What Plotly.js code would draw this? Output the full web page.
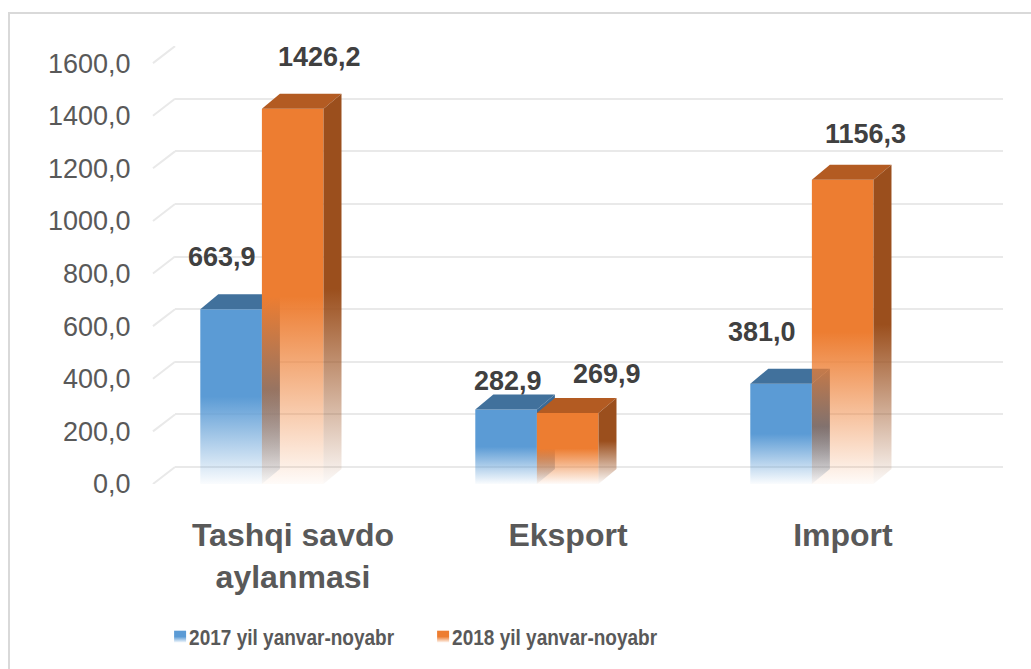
<!DOCTYPE html>
<html>
<head>
<meta charset="utf-8">
<script src="https://cdn.plot.ly/plotly-3.0.1.min.js"></script>
<style>
  html, body { margin: 0; padding: 0; background: #fff; }
  #plot { width: 1031px; height: 669px; }
  #frame {
    position: absolute; left: 8px; top: 12px; width: 1100px; height: 700px;
    border-left: 2px solid #d9d9d9; border-top: 2px solid #d9d9d9;
    pointer-events: none;
  }
</style>
</head>
<body>
<div id="plot"></div>
<div id="frame"></div>
<script>
// ---- data ----
const categories = ["Tashqi savdo<br>aylanmasi", "Eksport", "Import"];
const seriesNames = ["2017 yil yanvar-noyabr", "2018 yil yanvar-noyabr"];
const values2017 = [663.9, 282.9, 381.0];
const values2018 = [1426.2, 269.9, 1156.3];
const yTicks = [0, 200, 400, 600, 800, 1000, 1200, 1400, 1600];

// ---- style ----
const fronts = ["#5b9bd5", "#ed7d31"];
const tops = ["#41719c", "#b35b22"];
const sides = ["#3b6a96", "#9b4f1d"];
const barW = 0.224;
const offsets = [-0.337, -0.113];
const depthX = 18, depthY = 15;
const backShift = 64.5;   // y units that equal the 3D depth in pixels
// label nudges (px) so labels sit like in the original
const nudgeX = [[-9, 2, -19], [27, 39, 23]];
const nudgeY = [[52, 29, 52], [52, 39, 46]];
const legendTextWidth = 205;  // the original legend font is condensed

const allValues = [values2017, values2018];

const traces = allValues.map((vals, s) => ({
    type: "bar",
    name: seriesNames[s],
    x: categories,
    y: vals,
    width: barW,
    offset: offsets[s],
    marker: { color: fronts[s], line: { width: 0 } },
    hoverinfo: "none"
}));

// invisible trace just to get the back gridlines on yaxis2
traces.push({
    type: "scatter", x: [categories[0]], y: [0], yaxis: "y2",
    mode: "markers", marker: { opacity: 0 }, showlegend: false, hoverinfo: "none"
});

const annotations = [];
allValues.forEach((vals, s) => {
    vals.forEach((v, i) => {
        annotations.push({
            x: i + offsets[s] + barW / 2,
            y: v,
            xref: "x", yref: "y",
            text: v.toFixed(1).replace(".", ","),
            showarrow: false,
            xshift: nudgeX[s][i],
            yshift: nudgeY[s][i],
            yanchor: "middle",
            font: { family: "Liberation Sans, Arial", size: 27, color: "#404040", weight: "bold" }
        });
    });
});

// short slanted gridline pieces at the left, like the 3D floor
const shapes = yTicks.map(t => ({
    type: "line", layer: "below",
    xref: "paper", yref: "y",
    x0: -0.0266, x1: 0,
    y0: t, y1: t + backShift,
    line: { color: "#e9e9e9", width: 2 }
}));

const layout = {
    width: 1031,
    height: 669,
    margin: { l: 175, r: 28, t: 46, b: 184 },
    paper_bgcolor: "rgba(0,0,0,0)",
    plot_bgcolor: "rgba(0,0,0,0)",
    separators: ", ",
    barmode: "overlay",
    showlegend: true,
    legend: {
        orientation: "h",
        x: -0.018, xanchor: "left",
        y: -0.346, yanchor: "middle",
        entrywidth: 218, entrywidthmode: "pixels",
        font: { family: "Liberation Sans, Arial", size: 22, color: "#595959", weight: "bold" },
        itemclick: false
    },
    xaxis: {
        type: "category",
        range: [-0.429, 2.582],
        showgrid: false,
        zeroline: false,
        showline: false,
        ticks: "outside",
        ticklen: 23,
        tickcolor: "rgba(0,0,0,0)",
        tickfont: { family: "Liberation Sans, Arial", size: 32, color: "#595959", weight: "bold" }
    },
    yaxis: {
        range: [0, 1665],
        tickvals: yTicks,
        ticktext: yTicks.map(t => t.toFixed(1).replace(".", ",")),
        showgrid: false,
        zeroline: false,
        showline: false,
        ticks: "outside",
        ticklen: 38,
        tickcolor: "rgba(0,0,0,0)",
        tickfont: { family: "Liberation Sans, Arial", size: 27, color: "#595959" }
    },
    yaxis2: {
        overlaying: "y",
        range: [-backShift, 1665 - backShift],
        tickvals: yTicks,
        showticklabels: false,
        showgrid: true,
        gridcolor: "#e9e9e9",
        gridwidth: 2,
        zeroline: false,
        showline: false
    },
    annotations: annotations,
    shapes: shapes
};

const SVGNS = "http://www.w3.org/2000/svg";

function addGradient(defs, id, color) {
    const g = document.createElementNS(SVGNS, "linearGradient");
    g.setAttribute("id", id);
    g.setAttribute("x1", "0"); g.setAttribute("y1", "0");
    g.setAttribute("x2", "0"); g.setAttribute("y2", "1");
    [[0, 1], [0.5, 1], [1, 0.03]].forEach(([o, op]) => {
        const st = document.createElementNS(SVGNS, "stop");
        st.setAttribute("offset", o);
        st.setAttribute("stop-color", color);
        st.setAttribute("stop-opacity", op);
        g.appendChild(st);
    });
    defs.appendChild(g);
}

function poly(parent, pts, fill) {
    const p = document.createElementNS(SVGNS, "polygon");
    p.setAttribute("points", pts.map(q => q.join(",")).join(" "));
    p.setAttribute("style", "fill:" + fill + ";stroke:none");
    parent.appendChild(p);
}

function dress3D(gd) {
    const svg = gd.querySelector("svg.main-svg");
    let defs = svg.querySelector("defs");
    if (!defs) {
        defs = document.createElementNS(SVGNS, "defs");
        svg.insertBefore(defs, svg.firstChild);
    }
    for (let s = 0; s < 2; s++) {
        addGradient(defs, "front" + s, fronts[s]);
        addGradient(defs, "side" + s, sides[s]);
    }

    const barTraces = gd.querySelectorAll(".barlayer .trace");
    barTraces.forEach((tr, s) => {
        tr.querySelectorAll(".point").forEach(pt => {
            const path = pt.querySelector("path");
            if (!path) return;
            path.style.fill = "url(#front" + s + ")";
            const b = path.getBBox();
            const x0 = b.x, x1 = b.x + b.width, y0 = b.y, y1 = b.y + b.height;
            // top face
            poly(pt, [[x0, y0], [x1, y0], [x1 + depthX, y0 - depthY], [x0 + depthX, y0 - depthY]], tops[s]);
            // side face
            poly(pt, [[x1, y0], [x1 + depthX, y0 - depthY], [x1 + depthX, y1 - depthY], [x1, y1]], "url(#side" + s + ")");
        });
    });

    // legend swatches with the same fade, condensed text closer to the swatch
    gd.querySelectorAll(".legend .traces").forEach((lt, s) => {
        const p = lt.querySelector(".legendpoints path");
        if (p) p.style.fill = "url(#front" + s + ")";
        const t = lt.querySelector("text.legendtext");
        if (t) {
            t.setAttribute("x", parseFloat(t.getAttribute("x")) - 11);
            t.setAttribute("textLength", legendTextWidth);
            t.setAttribute("lengthAdjust", "spacingAndGlyphs");
        }
    });
}

Plotly.newPlot("plot", traces, layout, { staticPlot: true }).then(gd => {
    dress3D(gd);
});
</script>
</body>
</html>
